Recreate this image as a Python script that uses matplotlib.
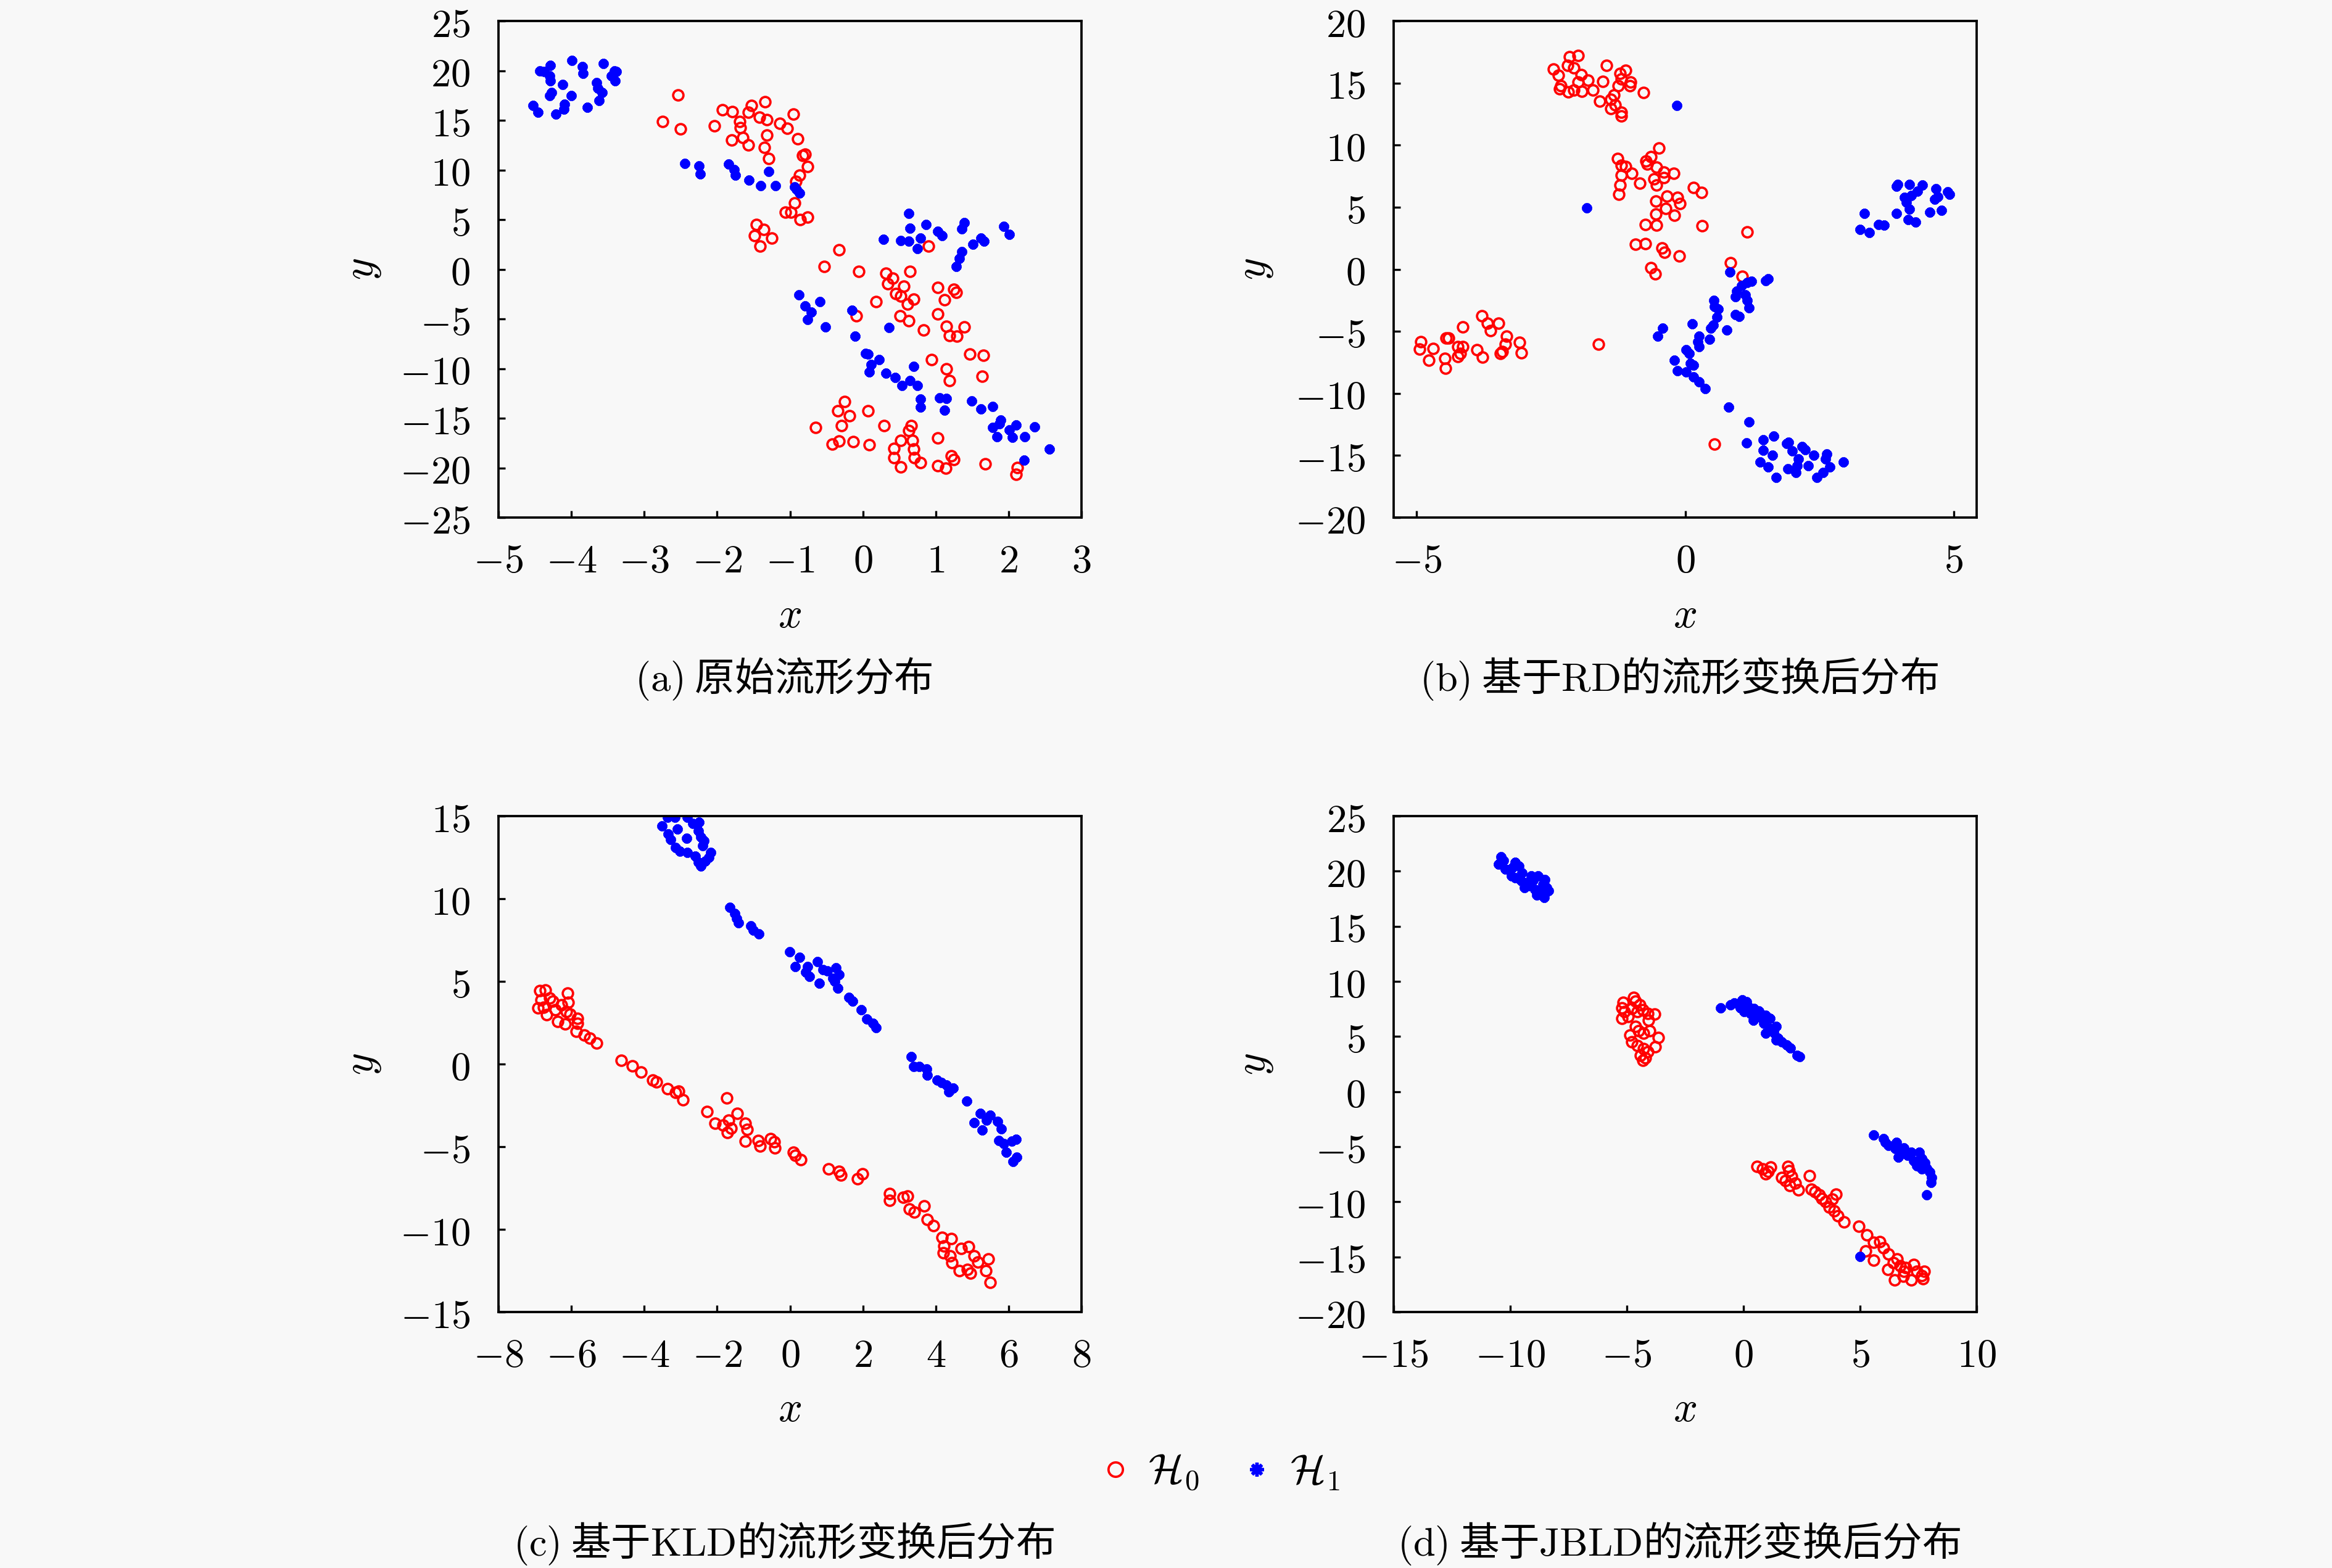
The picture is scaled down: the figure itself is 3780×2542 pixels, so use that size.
import matplotlib
matplotlib.use("Agg")
import matplotlib.pyplot as plt
from matplotlib.lines import Line2D

plt.rcParams['font.family'] = ['Noto Sans CJK SC', 'DejaVu Sans']
plt.rcParams['mathtext.fontset'] = 'cm'
plt.rcParams['axes.unicode_minus'] = True

BG = '#f8f8f8'

# ---------------- data ----------------
# (a) original manifold
a_h0_x = [-2.54, -2.75, -2.50, -2.04, -1.93, -1.79, -1.69, -1.68, -1.65, -1.80, -1.57, -1.57, -1.53, -1.42, -1.34,
          -1.32, -1.32, -1.35, -1.29, -1.14, -1.04, -0.95, -0.89, -0.83, -0.79, -0.76, -0.87, -0.92, -0.94, -1.06,
          -0.99, -0.86, -0.76,
          -1.46, -1.36, -1.49, -1.25, -1.41,
          -0.33, -0.53, -0.06, 0.32, 0.41, 0.65, 0.34, 0.56, 0.45, 0.52, 0.70, 0.61, 0.18, 0.90, 1.03, 1.25, 1.28,
          1.12, 1.03, 0.51, 0.63, -0.09, 0.83, 1.15, 1.39, 1.19, 1.29, 1.47, 1.65, 0.94, 1.15, 1.19, 1.64,
          -0.25, -0.34, -0.18, 0.07, -0.29, -0.65, -0.42, -0.33, -0.13, 0.09, 0.29, 0.66, 0.63, 0.52, 0.68, 0.43,
          0.43, 0.70, 0.71, 0.79, 0.52, 1.03, 1.21, 1.25, 1.03, 1.14, 1.68, 2.12, 2.10]
a_h0_y = [17.55, 14.85, 14.11, 14.45, 16.06, 15.86, 14.85, 14.28, 13.26, 13.03, 12.49, 15.79, 16.47, 15.29, 16.87,
          15.05, 13.53, 12.25, 11.14, 14.71, 14.17, 15.63, 13.16, 11.47, 11.58, 10.33, 9.45, 8.88, 6.68, 5.74,
          5.74, 5.00, 5.27,
          4.49, 3.98, 3.37, 3.14, 2.36,
          1.96, 0.27, -0.24, -0.41, -0.91, -0.24, -1.49, -1.69, -2.43, -2.70, -3.04, -3.51, -3.27, 2.36, -1.82,
          -2.02, -2.36, -3.10, -4.52, -4.72, -5.20, -4.72, -6.14, -5.74, -5.80, -6.65, -6.75, -8.57, -8.67, -9.11,
          -10.02, -11.20, -10.80,
          -13.30, -14.24, -14.75, -14.24, -15.76, -15.93, -17.62, -17.28, -17.35, -17.68, -15.76, -15.76, -16.27,
          -17.21, -17.21, -18.02, -18.97, -18.12, -18.97, -19.47, -19.91, -17.01, -18.80, -19.14, -19.81, -20.05,
          -19.57, -19.98, -20.65]
a_h1_x = [-4.53, -4.46, -4.43, -4.37, -4.29, -4.30, -4.29, -4.12, -4.27, -4.30, -4.21, -4.10, -4.09, -4.00, -3.99,
          -3.85, -3.84, -3.78, -3.65, -3.64, -3.62, -3.58, -3.56, -3.45, -3.41, -3.40, -3.38,
          -2.44, -2.25, -2.23, -1.84, -1.77, -1.75, -1.56, -1.40, -1.29, -1.20, -0.94, -0.91, -0.87,
          0.63, 0.65, 0.87, 1.03, 1.09, 0.28, 0.52, 0.63, 0.79, 0.75, 1.39, 1.36, 1.51, 1.62, 1.66, 1.93, 2.01,
          1.36, 1.32, 1.28,
          -0.88, -0.79, -0.71, -0.59, -0.76, -0.51, -0.15, -0.11, 0.36, 0.035, 0.07, 0.22, 0.11, 0.09, 0.32, 0.44,
          0.54, 0.65, 0.70, 0.75, 0.79, 0.79, 1.05, 1.15, 1.12, 1.49, 1.62, 1.78, 1.89, 1.87, 1.78, 1.84, 2.01,
          2.05, 2.10, 2.22, 2.36, 2.56, 2.21]
a_h1_y = [16.47, 15.79, 20.00, 19.90, 20.50, 19.50, 19.00, 18.60, 17.80, 17.50, 15.60, 16.10, 16.60, 17.50, 21.00,
          20.40, 19.70, 16.30, 18.80, 18.20, 17.00, 17.80, 20.70, 19.50, 20.00, 19.00, 19.90,
          10.67, 10.40, 9.62, 10.56, 10.06, 9.45, 8.98, 8.44, 9.85, 8.44, 8.30, 8.03, 7.70,
          5.60, 4.15, 4.49, 3.81, 3.37, 3.04, 2.87, 2.80, 3.14, 2.09, 4.66, 4.05, 2.53, 3.14, 2.80, 4.32, 3.48,
          1.79, 1.11, 0.27,
          -2.60, -3.71, -4.29, -3.27, -5.06, -5.80, -4.12, -6.75, -5.87, -8.50, -8.57, -9.11, -9.58, -10.36,
          -10.46, -10.87, -11.71, -11.20, -9.79, -11.71, -13.06, -13.90, -12.96, -12.99, -14.17, -13.23, -14.07,
          -13.84, -15.19, -15.59, -15.93, -16.87, -16.20, -16.94, -15.66, -16.87, -15.86, -18.12, -19.24]

# (b) after RD-based manifold transform
b_h0_x = [-2.45, -2.36, -2.32, -2.34, -2.16, -2.19, -2.08, -1.99, -1.94, -1.99, -2.18, -2.07, -1.92, -1.81, -1.72,
          -1.53, -1.46, -1.59, -1.38, -1.33, -1.38, -1.30, -1.25, -1.19, -1.21, -1.11, -1.02, -1.03, -1.19, -1.19,
          -0.77,
          -0.49, -1.26, -1.19, -1.11, -1.19, -0.99, -1.21, -1.24, -0.84, -0.73, -0.64, -0.71, -0.54, -0.40, -0.21,
          -0.58, -0.54, -0.40, 0.15, 0.30, -0.34, -0.55, -0.14, -0.10, -0.36, -0.55, -0.20, -0.74, -0.53, 0.32,
          1.16, -0.93, -0.74, -0.43, -0.38, -0.11, -0.64, -0.56, 0.85, 1.06,
          -4.92, -4.95, -4.69, -4.78, -4.48, -4.46, -4.45, -4.41, -4.14, -4.23, -4.14, -4.23, -4.19, -3.88, -3.77,
          -3.79, -3.68, -3.63, -3.48, -3.33, -3.35, -3.44, -3.41, -3.09, -3.05, -1.62, 0.55]
b_h0_y = [16.11, 15.62, 14.76, 14.54, 17.11, 16.43, 16.22, 17.24, 15.68, 15.08, 14.27, 14.41, 14.33, 15.22, 14.41,
          15.14, 16.43, 13.52, 13.68, 14.06, 12.92, 13.25, 14.76, 15.35, 15.76, 16.03, 15.08, 14.76, 12.66, 12.33,
          14.22,
          9.74, 8.93, 8.39, 8.28, 7.58, 7.74, 6.77, 6.04, 6.93, 8.74, 9.09, 8.47, 8.20, 7.85, 7.74, 7.26, 6.77,
          7.39, 6.58, 6.18, 5.91, 5.50, 5.77, 5.29, 4.88, 4.43, 4.37, 3.59, 3.53, 3.48, 3.02, 2.00, 2.05, 1.73,
          1.38, 1.05, 0.11, -0.38, 0.51, -0.57,
          -5.83, -6.45, -6.37, -7.31, -7.18, -7.99, -5.56, -5.56, -4.67, -6.23, -6.23, -7.04, -6.77, -6.50, -7.10,
          -3.75, -4.34, -4.94, -4.34, -5.37, -6.02, -6.77, -6.64, -5.91, -6.72, -6.04, -14.11]
b_h1_x = [-0.15, -1.83,
          3.94, 3.96, 4.18, 4.42, 4.33, 4.09, 4.21, 4.12, 4.18, 3.94, 4.16, 4.29, 4.67, 4.65, 4.71, 4.89, 4.92,
          4.56, 4.78, 3.34, 3.26, 3.43, 3.60, 3.71,
          0.83, 1.05, 1.16, 1.23, 1.50, 1.55, 0.96, 0.94, 1.12, 1.16, 1.19, 0.53, 0.55, 0.62, 0.59, 0.52, 0.48,
          0.94, 1.01, 0.78, 0.13, 0.26, 0.24, 0.26, 0.45, -0.51, -0.42, 0.02, 0.08, 0.10, 0.15, -0.20, -0.14,
          0.02, 0.15, 0.26, 0.37, 0.81, 1.19, 1.14, 1.45, 1.45, 1.65, 1.63, 1.40, 1.55, 1.69, 1.89, 1.93, 1.99,
          2.18, 2.23, 2.11, 2.09, 2.06, 1.91, 2.29, 2.40, 2.64, 2.62, 2.70, 2.57, 2.45, 2.95]
b_h1_y = [13.19, 4.96,
          6.66, 6.85, 6.85, 6.77, 6.31, 5.77, 5.96, 5.37, 4.83, 4.51, 4.02, 3.80, 6.50, 5.64, 5.86, 6.23, 6.04,
          4.61, 4.75, 4.51, 3.21, 2.94, 3.59, 3.53,
          -0.24, -1.32, -1.05, -0.97, -0.92, -0.78, -1.78, -2.19, -2.05, -2.51, -3.13, -2.51, -3.00, -3.21, -3.86,
          -4.48, -4.75, -3.67, -3.80, -4.88, -4.40, -5.37, -5.83, -6.23, -5.64, -5.37, -4.75, -6.50, -6.77, -7.58,
          -7.72, -7.31, -8.18, -8.26, -8.66, -9.07, -9.61, -11.09, -12.30, -14.00, -13.73, -14.60, -13.46,
          -15.00, -15.54, -15.95, -16.76, -14.06, -13.92, -14.65, -14.27, -14.54, -15.27, -15.81, -16.35,
          -16.08, -15.81, -15.00, -14.87, -15.27, -15.95, -16.35, -16.76, -15.54]

# (c) after KLD-based manifold transform
c_h0_x = [-6.87, -6.71, -6.84, -6.60, -6.51, -6.92, -6.76, -6.68, -6.44, -6.27, -6.11, -6.08, -6.14, -6.04, -6.38,
          -6.17, -5.84, -5.84, -5.86, -5.65, -5.50, -5.30,
          -4.63, -4.33, -4.09, -3.76, -3.66, -3.36, -3.14, -3.06, -2.93, -2.28, -1.74, -2.06, -1.44, -1.83, -1.68,
          -1.61, -1.72, -1.22, -1.18, -1.22, -0.87, -0.82, -0.53, -0.44, -0.42, 0.10, 0.15, 0.29, 1.05, 1.34,
          1.39, 1.85, 1.99,
          2.74, 2.74, 3.10, 3.23, 3.28, 3.42, 3.68, 3.77, 3.93, 4.18, 4.42, 4.22, 4.20, 4.40, 4.44, 4.69, 4.90,
          4.65, 4.96, 4.87, 5.06, 5.15, 5.44, 5.37, 5.50]
c_h0_y = [4.43, 4.49, 3.89, 3.99, 3.79, 3.38, 3.42, 2.98, 3.28, 3.58, 4.29, 3.74, 3.18, 3.02, 2.57, 2.41, 2.77,
          2.47, 1.96, 1.76, 1.56, 1.26,
          0.24, -0.10, -0.47, -0.97, -1.07, -1.48, -1.72, -1.64, -2.15, -2.89, -2.04, -3.60, -3.00, -3.70, -3.40,
          -3.87, -4.15, -3.60, -3.95, -4.68, -4.62, -4.96, -4.51, -4.72, -5.08, -5.32, -5.53, -5.77, -6.34,
          -6.50, -6.70, -6.94, -6.64,
          -7.85, -8.26, -8.06, -8.00, -8.77, -8.97, -8.60, -9.41, -9.78, -10.49, -10.55, -10.99, -11.40, -11.60,
          -12.00, -11.15, -11.03, -12.51, -12.65, -12.41, -11.60, -11.96, -11.80, -12.51, -13.22]
c_h1_x = [-3.52, -3.36, -3.16, -3.09, -2.82, -2.66, -2.49, -2.52, -3.34, -3.27, -2.84, -3.14, -3.03, -2.82, -2.60,
          -2.52, -2.44, -2.33, -2.22, -2.17, -2.36, -2.39, -2.44,
          -1.65, -1.52, -1.47, -1.41, -1.07, -1.00, -0.85,
          -0.01, 0.15, 0.26, 0.48, 0.44, 0.53, 0.75, 0.80, 0.91, 1.02, 1.18, 1.26, 1.23, 1.34, 1.31, 1.61, 1.72,
          1.95, 2.10, 2.28, 2.37,
          3.32, 3.39, 3.55, 3.75, 3.77, 4.04, 4.15, 4.29, 4.36, 4.47, 4.85, 5.23, 5.06, 5.28, 5.39, 5.50, 5.69,
          5.80, 5.73, 5.87, 5.93, 6.09, 6.20, 6.12, 6.23]
c_h1_y = [14.41, 14.92, 14.92, 14.21, 14.92, 14.55, 14.62, 14.11, 13.91, 13.60, 13.66, 13.10, 12.89, 12.79, 12.59,
          12.19, 11.98, 12.29, 12.49, 12.79, 13.50, 13.20, 13.74,
          9.49, 9.09, 8.81, 8.54, 8.34, 8.08, 7.87,
          6.78, 5.91, 6.46, 5.91, 5.57, 5.30, 6.21, 4.90, 5.71, 5.65, 5.20, 5.81, 5.00, 5.40, 4.60, 4.03, 3.79,
          3.28, 2.73, 2.47, 2.21,
          0.45, -0.16, -0.16, -0.30, -0.67, -0.97, -1.11, -1.28, -1.68, -1.44, -2.25, -3.00, -3.54, -4.01, -3.40,
          -3.10, -3.46, -3.91, -4.62, -4.82, -5.32, -4.68, -4.55, -5.89, -5.63]

# (d) after JBLD-based manifold transform
d_h0_x = [-5.16, -5.21, -5.10, -5.21, -4.96, -4.71, -4.62, -4.45, -4.79, -4.54, -4.32, -4.11, -3.81, -4.08, -4.62,
          -4.88, -4.49, -4.28, -4.03, -3.64, -3.78, -4.79, -4.54, -4.28, -4.11, -4.42, -4.20, -4.32,
          0.59, 0.83, 1.05, 1.17, 0.96, 1.90, 1.95, 1.64, 1.81, 2.07, 2.23, 1.98, 2.35, 2.83, 2.91, 3.08, 3.25,
          3.37, 3.51, 3.98, 3.81, 3.67, 3.88, 4.05, 4.32, 4.94, 5.28, 5.23, 5.57, 5.84, 5.57, 6.01, 6.21, 6.18,
          6.42, 6.59, 6.72, 6.89, 6.47, 6.86, 6.97, 7.19, 7.31, 7.43, 7.65, 7.70, 7.74]
d_h0_y = [8.11, 7.62, 7.26, 6.65, 6.80, 8.54, 8.23, 7.87, 7.56, 7.26, 7.41, 7.11, 7.02, 6.50, 5.89, 5.13, 5.50,
          5.29, 5.50, 4.89, 4.07, 4.53, 4.16, 3.92, 3.61, 3.31, 3.07, 2.86,
          -6.77, -7.02, -7.26, -6.87, -7.47, -6.77, -7.17, -7.78, -8.08, -7.69, -8.29, -8.54, -8.90, -7.62, -8.84,
          -9.08, -9.39, -9.69, -9.99, -9.30, -9.75, -10.51, -10.81, -11.27, -11.82, -12.24, -13.03, -14.46,
          -13.70, -13.64, -15.28, -14.16, -14.76, -16.13, -15.52, -15.16, -15.83, -16.28, -17.10, -16.74,
          -15.98, -17.10, -15.67, -16.28, -16.68, -16.98, -16.28]
d_h1_x = [-10.41, -10.51, -10.29, -10.21, -9.90, -9.79, -9.95, -9.79, -9.62, -9.50, -9.53, -9.40, -9.28, -9.11,
          -9.16, -8.94, -8.82, -8.85, -8.68, -8.55, -8.60, -8.43, -8.35, -8.52, -9.02,
          -0.98, -0.56, -0.39, -0.05, 0.12, -0.14, 0.20, 0.03, 0.29, 0.46, 0.66, 0.54, 0.42, 0.76, 0.96, 1.13,
          0.88, 1.10, 0.96, 1.39, 1.30, 1.47, 1.39, 1.64, 1.85, 2.01, 2.29, 2.40,
          5.57, 6.01, 6.08, 6.21, 6.55, 6.52, 6.72, 6.89, 6.64, 7.03, 7.19, 7.53, 7.31, 7.65, 7.43, 7.77, 7.65,
          7.87, 7.99, 8.08, 8.04, 7.87, 4.99]
d_h1_y = [21.29, 20.63, 20.99, 20.17, 20.38, 20.78, 19.56, 19.41, 20.47, 19.87, 19.11, 18.50, 18.96, 19.56, 18.65,
          18.35, 19.56, 17.83, 18.04, 17.59, 18.80, 18.50, 18.20, 19.26, 19.17,
          7.62, 7.87, 8.02, 8.32, 8.17, 7.62, 7.72, 7.26, 7.11, 7.56, 7.32, 6.80, 6.50, 6.71, 6.90, 6.65, 6.20,
          5.74, 5.29, 5.89, 5.38, 4.83, 4.68, 4.53, 4.22, 3.98, 3.31, 3.16,
          -3.92, -4.28, -4.59, -4.89, -4.59, -5.19, -5.50, -5.13, -5.95, -5.80, -5.50, -5.50, -6.26, -6.04,
          -6.71, -6.47, -7.02, -6.96, -7.32, -7.78, -8.23, -9.39, -14.98]

# axis settings
a_xticks = [-5, -4, -3, -2, -1, 0, 1, 2, 3]
a_yticks = [-25, -20, -15, -10, -5, 0, 5, 10, 15, 20, 25]
b_xticks = [-5, 0, 5]
b_yticks = [-20, -15, -10, -5, 0, 5, 10, 15, 20]
c_xticks = [-8, -6, -4, -2, 0, 2, 4, 6, 8]
c_yticks = [-15, -10, -5, 0, 5, 10, 15]
d_xticks = [-15, -10, -5, 0, 5, 10]
d_yticks = [-20, -15, -10, -5, 0, 5, 10, 15, 20, 25]

captions = [r'$\mathrm{(a)}$ 原始流形分布',
            r'$\mathrm{(b)}$ 基于$\mathrm{RD}$的流形变换后分布',
            r'$\mathrm{(c)}$ 基于$\mathrm{KLD}$的流形变换后分布',
            r'$\mathrm{(d)}$ 基于$\mathrm{JBLD}$的流形变换后分布']
legend_labels = [r'$\mathcal{H}_0$', r'$\mathcal{H}_1$']

# ---------------- figure ----------------
W, H = 3780, 2542
DPI = 300
fig = plt.figure(figsize=(W / DPI, H / DPI), dpi=DPI, facecolor=BG)

def px_axes(l, t, r, b):
    return [l / W, 1 - b / H, (r - l) / W, (b - t) / H]

panels = [
    dict(rect=px_axes(808, 34, 1753, 839), h0=(a_h0_x, a_h0_y), h1=(a_h1_x, a_h1_y),
         xt=a_xticks, yt=a_yticks, xlim=(-5, 3), ylim=(-25, 25), ylx=-0.235),
    dict(rect=px_axes(2259, 34, 3204, 839), h0=(b_h0_x, b_h0_y), h1=(b_h1_x, b_h1_y),
         xt=b_xticks, yt=b_yticks, xlim=(-5.43, 5.43), ylim=(-20, 20), ylx=-0.240),
    dict(rect=px_axes(808, 1323, 1753, 2127), h0=(c_h0_x, c_h0_y), h1=(c_h1_x, c_h1_y),
         xt=c_xticks, yt=c_yticks, xlim=(-8, 8), ylim=(-15, 15), ylx=-0.235),
    dict(rect=px_axes(2259, 1323, 3204, 2127), h0=(d_h0_x, d_h0_y), h1=(d_h1_x, d_h1_y),
         xt=d_xticks, yt=d_yticks, xlim=(-15, 10), ylim=(-20, 25), ylx=-0.240),
]

TFS = 15.5
red_kw = dict(linestyle='none', marker='o', markersize=4.0, markerfacecolor='none',
              markeredgecolor='#ff0000', markeredgewidth=0.9)
blue_kw = dict(linestyle='none', marker=(8, 2, 0), markersize=3.8, markerfacecolor='#0000ff',
               markeredgecolor='#0000ff', markeredgewidth=1.3)

for p in panels:
    ax = fig.add_axes(p['rect'])
    ax.set_facecolor(BG)
    ax.plot(p['h0'][0], p['h0'][1], **red_kw)
    ax.plot(p['h1'][0], p['h1'][1], **blue_kw)
    ax.set_xlim(*p['xlim'])
    ax.set_ylim(*p['ylim'])
    ax.set_xticks(p['xt'])
    ax.set_xticklabels([r'$%d$' % v for v in p['xt']])
    ax.set_yticks(p['yt'])
    ax.set_yticklabels([r'$%d$' % v for v in p['yt']])
    ax.tick_params(direction='in', length=2.6, width=0.8, labelsize=TFS, top=False, right=False)
    ax.tick_params(axis='x', pad=9)
    ax.tick_params(axis='y', pad=11)
    for s in ax.spines.values():
        s.set_linewidth(0.9)
    ax.set_xlabel(r'$x$', fontsize=TFS + 1, va='center')
    ax.xaxis.set_label_coords(0.5, -0.197)
    ax.set_ylabel(r'$y$', fontsize=TFS + 1, va='center', rotation=90)
    ax.yaxis.set_label_coords(p['ylx'], 0.5)

cap_pos = [(0.336, 1 - 1100 / H), (0.720, 1 - 1100 / H), (0.336, 1 - 2503 / H), (0.720, 1 - 2503 / H)]
for txt, (cx, cy) in zip(captions, cap_pos):
    fig.text(cx, cy, txt, ha='center', va='center', fontsize=TFS)

handles = [Line2D([], [], **red_kw), Line2D([], [], **blue_kw)]
fig.legend(handles, legend_labels, loc='center', bbox_to_anchor=(0.522, 1 - 2387 / H), ncol=2,
           frameon=False, fontsize=TFS + 0.5, markerscale=1.4, handlelength=1.0, handletextpad=0.3,
           columnspacing=0.9)

fig.savefig('out.png', dpi=DPI, facecolor=BG)
